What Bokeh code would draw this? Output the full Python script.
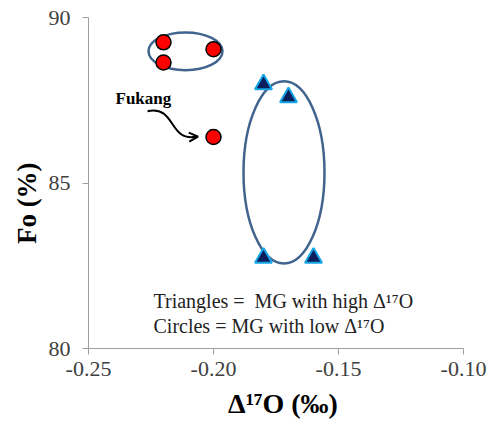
from bokeh.plotting import figure
from bokeh.models import Range1d, FixedTicker, PrintfTickFormatter, Label, Arrow, OpenHead
from bokeh.embed import file_html
from bokeh.resources import INLINE

# data
circle_x = [-0.22, -0.22, -0.20, -0.20]
circle_y = [89.25, 88.64, 89.04, 86.39]
tri_x = [-0.18, -0.17, -0.18, -0.16]
tri_y = [87.98, 87.59, 82.74, 82.74]
ell_x = [-0.2112, -0.1718]
ell_y = [88.98, 85.32]
ell_w = [0.0296, 0.0324]
ell_h = [1.14, 5.51]
x_ticks = [-0.25, -0.20, -0.15, -0.10]
y_ticks = [80, 85, 90]
NB = "\u00a0"
legend_lines = ["Triangles =" + NB + NB + "MG with high \u0394\u00b9\u2077O", "Circles = MG with low \u0394\u00b9\u2077O"]
x_title = NB * 2 + "\u0394\u00b9\u2077O (\u2030)"
y_title = "Fo (%)" + NB * 6
# Fukang arrow (bezier) in data coords
arrow_bez = dict(x0=-0.2264, y0=87.17, cx0=-0.2152, cy0=87.35, cx1=-0.218, cy1=86.295, x1=-0.2076, y1=86.386)

p = figure(width=492, height=421, output_backend="svg", toolbar_location=None,
           x_range=Range1d(-0.25, -0.10), y_range=Range1d(80, 90),
           min_border_left=88, min_border_right=29, min_border_top=17, min_border_bottom=72)
p.outline_line_color = None
p.xgrid.visible = False
p.ygrid.visible = False
p.background_fill_color = "white"
p.border_fill_color = "white"

for ax in (p.xaxis, p.yaxis):
    ax.axis_line_color = "#9E9E9E"
    ax.major_tick_line_color = "#9E9E9E"
    ax.minor_tick_line_color = None
    ax.major_tick_in = 0
    ax.major_tick_out = 6
    ax.major_label_text_font = "Liberation Serif"
    ax.major_label_text_font_size = "22px"
    ax.major_label_text_color = "#404040"
    ax.axis_line_width = 1
    ax.axis_label_text_font = "Liberation Serif"
    ax.axis_label_text_font_style = "bold"
    ax.axis_label_text_color = "black"
p.xaxis.ticker = FixedTicker(ticks=x_ticks)
p.yaxis.ticker = FixedTicker(ticks=y_ticks)
p.xaxis.formatter = PrintfTickFormatter(format="%.2f")
p.xaxis.major_label_standoff = 7
p.yaxis.major_label_standoff = 12
p.xaxis.axis_label = x_title
p.yaxis.axis_label = y_title
p.xaxis.axis_label_text_font_size = "28px"
p.yaxis.axis_label_text_font_size = "27px"
p.xaxis.axis_label_standoff = 9
p.yaxis.axis_label_standoff = 4

# ellipses
p.ellipse(x=ell_x, y=ell_y, width=ell_w, height=ell_h, fill_alpha=0,
          line_color="#41648F", line_width=2.5)

# markers
p.scatter(circle_x, circle_y, marker="circle", size=15, fill_color="#FF0000",
          line_color="black", line_width=1.5)
p.scatter(tri_x, tri_y, marker="triangle", size=17, fill_color="#0B1F5C",
          line_color="#14A6E6", line_width=2)

# Fukang annotation
p.bezier(**arrow_bez, line_color="black", line_width=2)
p.add_layout(Arrow(end=OpenHead(size=9, line_width=2, line_color="black"),
                   x_start=-0.2086, y_start=86.39, x_end=-0.2062, y_end=86.40,
                   line_color="black", line_width=2))
p.add_layout(Label(x=-0.2392, y=87.56, text="Fukang", text_font="Liberation Serif",
                   text_font_style="bold", text_font_size="17px", text_baseline="middle",
                   text_color="black"))

# legend text
p.add_layout(Label(x=-0.224, y=81.42, text=legend_lines[0], text_font="Liberation Serif",
                   text_font_size="20px", text_baseline="middle", text_color="#222222"))
p.add_layout(Label(x=-0.224, y=80.69, text=legend_lines[1], text_font="Liberation Serif",
                   text_font_size="20px", text_baseline="middle", text_color="#222222"))

open("out.html", "w").write(file_html(p, INLINE))
